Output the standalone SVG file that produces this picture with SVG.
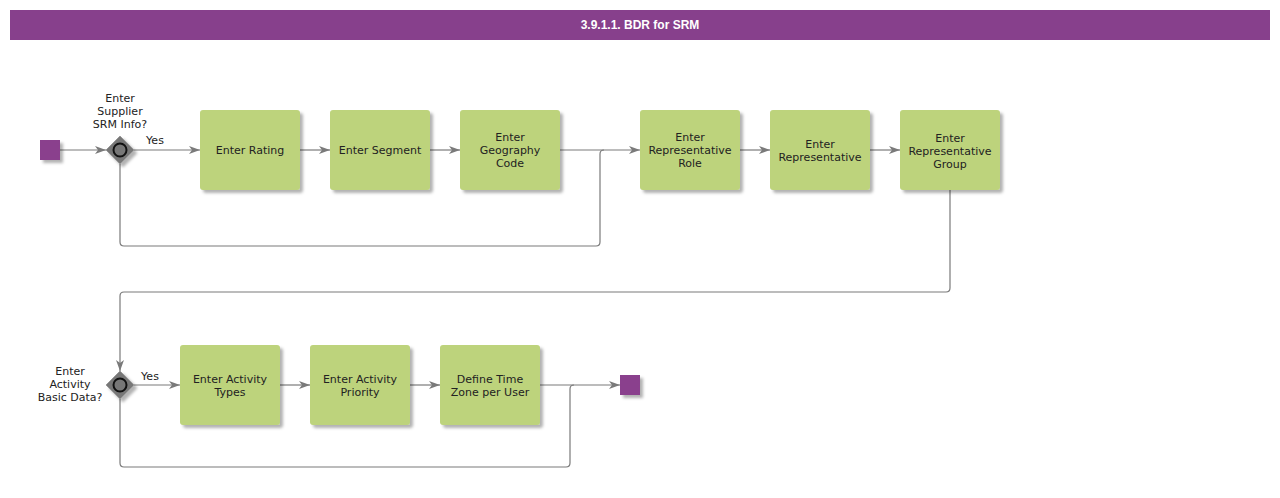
<svg xmlns="http://www.w3.org/2000/svg" width="1280" height="498" viewBox="0 0 1280 498">
<style>
.task{fill:#BDD37C;filter:url(#sh)}
.ev{fill:#8A3F8D;filter:url(#sh)}
.gw{fill:#777;stroke:#999;stroke-width:1;filter:url(#sh)}
.gc{fill:none;stroke:#111;stroke-width:2}
.t{font-family:"DejaVu Sans",Verdana,sans-serif;font-size:11px;fill:#222;text-anchor:middle}
.c{fill:none;stroke:#7a7a7a;stroke-width:1.2}
.title{font-family:"Liberation Sans",Arial,sans-serif;font-size:12px;font-weight:bold;fill:#fff;text-anchor:middle}
</style>
<defs>
<filter id="sh" x="-20%" y="-20%" width="150%" height="150%">
<feDropShadow dx="3" dy="3" stdDeviation="1.5" flood-color="#000" flood-opacity="0.3"/>
</filter>
<marker id="ar" viewBox="0 0 11 10" refX="11" refY="5" markerWidth="11" markerHeight="10" markerUnits="userSpaceOnUse" orient="auto">
<path d="M0,1 L11,5 L0,9 L3,5 Z" fill="#7a7a7a"/>
</marker>
</defs>
<rect width="1280" height="498" fill="#fff"/>
<g id="title">
<rect x="10" y="10" width="1260" height="30" fill="#87408C"/>
<text class="title" x="640" y="29">3.9.1.1. BDR for SRM</text>
</g>
<g id="connectors">
<path class="c" d="M60,150 H106" marker-end="url(#ar)"/>
<path class="c" d="M134,150 H200" marker-end="url(#ar)"/>
<path class="c" d="M300,150 H330" marker-end="url(#ar)"/>
<path class="c" d="M430,150 H460" marker-end="url(#ar)"/>
<path class="c" d="M560,150 H640" marker-end="url(#ar)"/>
<path class="c" d="M120,164 V242 Q120,246 124,246 H596 Q600,246 600,242 V154 Q600,150 604,150"/>
<path class="c" d="M740,150 H770" marker-end="url(#ar)"/>
<path class="c" d="M870,150 H900" marker-end="url(#ar)"/>
<path class="c" d="M950,190 V288 Q950,292 946,292 H124 Q120,292 120,296 V371" marker-end="url(#ar)"/>
<path class="c" d="M134,385 H180" marker-end="url(#ar)"/>
<path class="c" d="M280,385 H310" marker-end="url(#ar)"/>
<path class="c" d="M410,385 H440" marker-end="url(#ar)"/>
<path class="c" d="M540,385 H620" marker-end="url(#ar)"/>
<path class="c" d="M120,399 V463 Q120,467 124,467 H566 Q570,467 570,463 V389 Q570,385 574,385"/>
<text class="t" x="155" y="144">Yes</text>
<text class="t" x="150" y="380">Yes</text>
</g>
<g id="start"><rect class="ev" x="40" y="140" width="20" height="20"/></g>
<g id="gw1">
<path class="gw" d="M120,136 L134,150 L120,164 L106,150 Z"/>
<circle class="gc" cx="120" cy="150" r="6.5"/>
<text class="t" x="120" y="102">Enter</text>
<text class="t" x="120" y="115">Supplier</text>
<text class="t" x="120" y="128">SRM Info?</text>
</g>
<g id="n1"><rect class="task" x="200" y="110" width="100" height="80" rx="3"/><text class="t" x="250" y="154">Enter Rating</text></g>
<g id="n2"><rect class="task" x="330" y="110" width="100" height="80" rx="3"/><text class="t" x="380" y="154">Enter Segment</text></g>
<g id="n3"><rect class="task" x="460" y="110" width="100" height="80" rx="3"/><text class="t" x="510" y="141">Enter</text><text class="t" x="510" y="154">Geography</text><text class="t" x="510" y="167">Code</text></g>
<g id="n4"><rect class="task" x="640" y="110" width="100" height="80" rx="3"/><text class="t" x="690" y="141">Enter</text><text class="t" x="690" y="154">Representative</text><text class="t" x="690" y="167">Role</text></g>
<g id="n5"><rect class="task" x="770" y="110" width="100" height="80" rx="3"/><text class="t" x="820" y="148">Enter</text><text class="t" x="820" y="161">Representative</text></g>
<g id="n6"><rect class="task" x="900" y="110" width="100" height="80" rx="3"/><text class="t" x="950" y="142">Enter</text><text class="t" x="950" y="155">Representative</text><text class="t" x="950" y="168">Group</text></g>
<g id="gw2">
<path class="gw" d="M120,371 L134,385 L120,399 L106,385 Z"/>
<circle class="gc" cx="120" cy="385" r="6.5"/>
<text class="t" x="70" y="375">Enter</text>
<text class="t" x="70" y="388">Activity</text>
<text class="t" x="70" y="401">Basic Data?</text>
</g>
<g id="n7"><rect class="task" x="180" y="345" width="100" height="80" rx="3"/><text class="t" x="230" y="383">Enter Activity</text><text class="t" x="230" y="396">Types</text></g>
<g id="n8"><rect class="task" x="310" y="345" width="100" height="80" rx="3"/><text class="t" x="360" y="383">Enter Activity</text><text class="t" x="360" y="396">Priority</text></g>
<g id="n9"><rect class="task" x="440" y="345" width="100" height="80" rx="3"/><text class="t" x="490" y="383">Define Time</text><text class="t" x="490" y="396">Zone per User</text></g>
<g id="end"><rect class="ev" x="620" y="375" width="20" height="20"/></g>
</svg>
